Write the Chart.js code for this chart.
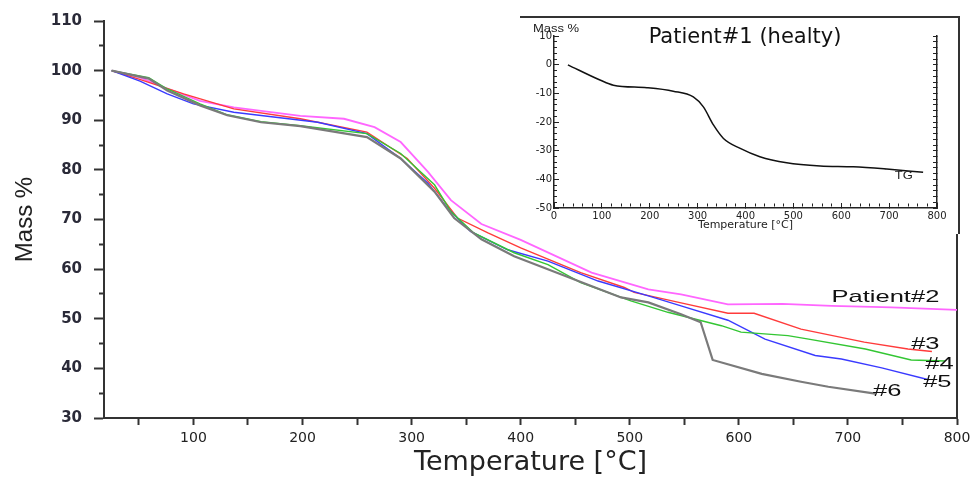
<!DOCTYPE html>
<html>
<head>
<meta charset="utf-8">
<script src="https://cdn.jsdelivr.net/npm/chart.js@4"></script>
<style>
  body { margin: 0; background: #fff; }
  canvas { display: block; }
  #wrap { position: relative; width: 980px; height: 480px; }
  #inset { position: absolute; left: 520px; top: 16px; width: 438px; height: 216px;
           background: #fff; border-top: 2px solid #333; border-right: 2px solid #333; }
</style>
</head>
<body>
<div id="wrap">
  <canvas id="mainChart" width="980" height="480"></canvas>
  <div id="inset"><canvas id="insetChart" width="438" height="216"></canvas></div>
</div>
<script>
// main chart: mass % vs temperature, patients 2..6
const p2Temp = [25, 50, 76, 106, 137, 162, 198, 238, 266, 290, 315, 336, 364, 400, 465, 517, 547, 590, 640, 685, 740, 800];
const p2Mass = [100, 98.7, 96.4, 93.9, 92.6, 91.9, 90.9, 90.3, 88.6, 85.6, 79.6, 73.9, 69.1, 65.9, 59.3, 55.9, 54.9, 52.9, 53.0, 52.6, 52.3, 51.8];

const p3Temp = [25, 50, 91, 137, 198, 259, 296, 321, 342, 370, 400, 455, 495, 504, 547, 590, 614, 657, 715, 755, 777];
const p3Mass = [100, 98.3, 95.3, 92.3, 90.3, 87.6, 82.3, 76.3, 70.3, 67.3, 64.3, 59.3, 56.3, 55.3, 53.2, 51.1, 51.1, 47.9, 45.3, 43.9, 43.4];

const p4Temp = [25, 59, 76, 106, 131, 162, 198, 259, 290, 321, 336, 357, 394, 425, 455, 501, 535, 584, 602, 645, 664, 716, 758, 789];
const p4Mass = [100, 98.6, 96.3, 93.3, 91.1, 89.7, 88.9, 87.3, 83.3, 77.0, 71.6, 67.3, 63.3, 60.9, 57.3, 53.6, 51.3, 48.6, 47.3, 46.6, 45.9, 43.9, 41.7, 41.5];

const p5Temp = [25, 51, 76, 100, 137, 214, 259, 290, 315, 333, 354, 388, 425, 471, 517, 547, 590, 624, 670, 694, 731, 774];
const p5Mass = [100, 97.9, 95.3, 93.3, 91.6, 89.6, 87.3, 82.3, 77.3, 72.3, 67.6, 63.9, 61.6, 57.6, 54.6, 52.6, 49.7, 45.9, 42.6, 41.9, 40.1, 37.7];

const p6Temp = [25, 59, 76, 106, 131, 162, 198, 259, 290, 321, 339, 364, 394, 492, 517, 547, 565, 576, 621, 657, 682, 725];
const p6Mass = [100, 98.4, 96.0, 93.0, 91.0, 89.6, 88.8, 86.6, 82.3, 75.6, 70.3, 66.0, 62.6, 54.3, 53.3, 50.9, 49.3, 41.7, 38.9, 37.3, 36.3, 34.9];

// inset: patient 1 TG curve
const p1Temp = [29, 96, 124, 194, 249, 291, 312, 333, 354, 389, 430, 486, 556, 625, 695, 771];
const p1Mass = [0, -5.3, -7.1, -8.0, -9.2, -11.2, -14.7, -21.0, -25.7, -29.2, -32.1, -34.2, -35.3, -35.6, -36.4, -37.5];

const mainXLabels = [100, 200, 300, 400, 500, 600, 700, 800];
const mainYLabels = [30, 40, 50, 60, 70, 80, 90, 100, 110];
const insetXLabels = [0, 100, 200, 300, 400, 500, 600, 700, 800];
const insetYLabels = [-50, -40, -30, -20, -10, 0, 10];

const mainNotes = [
  { text: 'Patient#2', t: 685, v: 54.4 },
  { text: '#3', t: 758, v: 44.9 },
  { text: '#4', t: 771, v: 40.9 },
  { text: '#5', t: 769, v: 37.2 },
  { text: '#6', t: 723, v: 35.3 }
];
const insetNotes = [
  { text: 'Mass %', t: -44, v: 12.4 },
  { text: 'TG', t: 712, v: -38.8 }
];

const toPoints = (ts, ms) => ts.map((t, i) => ({ x: t, y: ms[i] }));

// labels placed in data coordinates, drawn a bit wider than the font
const textNotes = {
  id: 'textNotes',
  afterDatasetsDraw(chart, args, opts) {
    const ctx = chart.ctx;
    const xs = chart.scales.x, ys = chart.scales.y;
    ctx.save();
    ctx.fillStyle = opts.color;
    ctx.textAlign = 'left';
    ctx.textBaseline = 'middle';
    ctx.font = opts.size + 'px "Liberation Sans"';
    opts.items.forEach(n => {
      ctx.save();
      ctx.translate(xs.getPixelForValue(n.t), ys.getPixelForValue(n.v));
      ctx.scale(opts.stretch, 1);
      ctx.fillText(n.text, 0, 0);
      ctx.restore();
    });
    ctx.restore();
  }
};

const line = (pts, color, width, smooth) => ({
  data: pts,
  borderColor: color,
  borderWidth: width,
  pointRadius: 0,
  fill: false,
  tension: 0,
  cubicInterpolationMode: smooth ? 'monotone' : 'default'
});

new Chart(document.getElementById('mainChart'), {
  type: 'line',
  data: {
    datasets: [
      line(toPoints(p6Temp, p6Mass), '#7a7a7a', 2.2),
      line(toPoints(p4Temp, p4Mass), '#33c633', 1.4),
      line(toPoints(p5Temp, p5Mass), '#3a3aff', 1.4),
      line(toPoints(p3Temp, p3Mass), '#ff3b3b', 1.4),
      line(toPoints(p2Temp, p2Mass), '#ff66ff', 1.8)
    ]
  },
  options: {
    responsive: false,
    animation: false,
    devicePixelRatio: 1,
    layout: { padding: { left: 0, right: 23, top: 18, bottom: 0 } },
    plugins: {
      legend: { display: false },
      tooltip: { enabled: false },
      textNotes: { items: mainNotes, size: 17, stretch: 1.5, color: '#111' }
    },
    scales: {
      x: {
        type: 'linear',
        min: 18, max: 800,
        afterFit: s => { s.height = 62; },
        border: { color: '#333', width: 2 },
        grid: { drawOnChartArea: false, tickLength: 7, tickColor: '#333', tickWidth: 2 },
        ticks: {
          stepSize: 50, includeBounds: false, autoSkip: false, maxRotation: 0, padding: 5,
          color: '#222', font: { family: 'DejaVu Sans', size: 14 },
          callback: v => mainXLabels.includes(v) ? String(v) : ''
        },
        title: {
          display: true, text: 'Temperature [°C]', color: '#222',
          font: { family: 'DejaVu Sans', size: 27 }, padding: { top: 0, bottom: 1 }
        }
      },
      y: {
        type: 'linear',
        min: 30, max: 110,
        afterFit: s => { s.width = 104; },
        border: { color: '#333', width: 2 },
        grid: {
          drawOnChartArea: false, tickLength: 10, tickColor: '#333', tickWidth: 2,
          tickBorderDash: c => mainYLabels.includes(c.tick.value) ? [] : [0, 5, 5, 100]
        },
        ticks: {
          stepSize: 5, autoSkip: false, padding: 12,
          color: '#2a2a38', font: { family: 'DejaVu Sans', size: 15, weight: 'bold' },
          callback: v => mainYLabels.includes(v) ? String(v) : ''
        },
        title: {
          display: true, text: 'Mass %', color: '#222',
          font: { family: 'Liberation Sans', size: 24 }, padding: { top: 11, bottom: 0 }
        }
      },
      yRight: {
        type: 'linear', position: 'right',
        min: 30, max: 110,
        afterFit: s => { s.width = 0; },
        border: { color: '#333', width: 2 },
        grid: { drawOnChartArea: false, drawTicks: false },
        ticks: { display: false }
      }
    }
  },
  plugins: [textNotes]
});

new Chart(document.getElementById('insetChart'), {
  type: 'line',
  data: {
    datasets: [line(toPoints(p1Temp, p1Mass), '#111', 1.5, true)]
  },
  options: {
    responsive: false,
    animation: false,
    devicePixelRatio: 1,
    layout: { padding: { left: 12, right: 0, top: 0, bottom: 0 } },
    plugins: {
      legend: { display: false },
      tooltip: { enabled: false },
      title: {
        display: true, text: 'Patient#1 (healty)', color: '#111',
        font: { family: 'DejaVu Sans', size: 21, weight: 'normal' },
        padding: { top: 7, bottom: -14 }
      },
      textNotes: { items: insetNotes, size: 10, stretch: 1.3, color: '#222' }
    },
    scales: {
      x: {
        type: 'linear',
        min: 0, max: 800,
        afterFit: s => { s.height = 26; },
        border: { color: '#222', width: 1.5 },
        grid: {
          drawOnChartArea: false, tickLength: -5, tickColor: '#222', tickWidth: 1,
          tickBorderDash: c => insetXLabels.includes(c.tick.value) ? [] : [0, 2, 3, 100]
        },
        ticks: {
          stepSize: 20, autoSkip: false, maxRotation: 0, padding: 7,
          color: '#222', font: { family: 'DejaVu Sans', size: 10 },
          callback: v => insetXLabels.includes(v) ? String(v) : ''
        },
        title: {
          display: true, text: 'Temperature [°C]', color: '#222',
          font: { family: 'DejaVu Sans', size: 11 }, padding: { top: 0, bottom: 2 }
        }
      },
      y: {
        type: 'linear',
        min: -50, max: 10,
        afterFit: s => { s.width = 22; },
        border: { color: '#222', width: 1.5 },
        grid: {
          drawOnChartArea: false, tickLength: -5, tickColor: '#222', tickWidth: 1,
          tickBorderDash: c => insetYLabels.includes(c.tick.value) ? [] : [0, 2, 3, 100]
        },
        ticks: {
          stepSize: 2, autoSkip: false, padding: 7,
          color: '#222', font: { family: 'DejaVu Sans', size: 10 },
          callback: v => insetYLabels.includes(v) ? String(v) : ''
        }
      },
      yRight: {
        type: 'linear', position: 'right',
        min: -50, max: 10,
        afterFit: s => { s.width = 21; },
        border: { color: '#222', width: 1.5 },
        grid: { drawOnChartArea: false, tickLength: -4, tickColor: '#222', tickWidth: 1 },
        ticks: { display: false, stepSize: 2 }
      }
    }
  },
  plugins: [textNotes]
});
</script>
</body>
</html>
